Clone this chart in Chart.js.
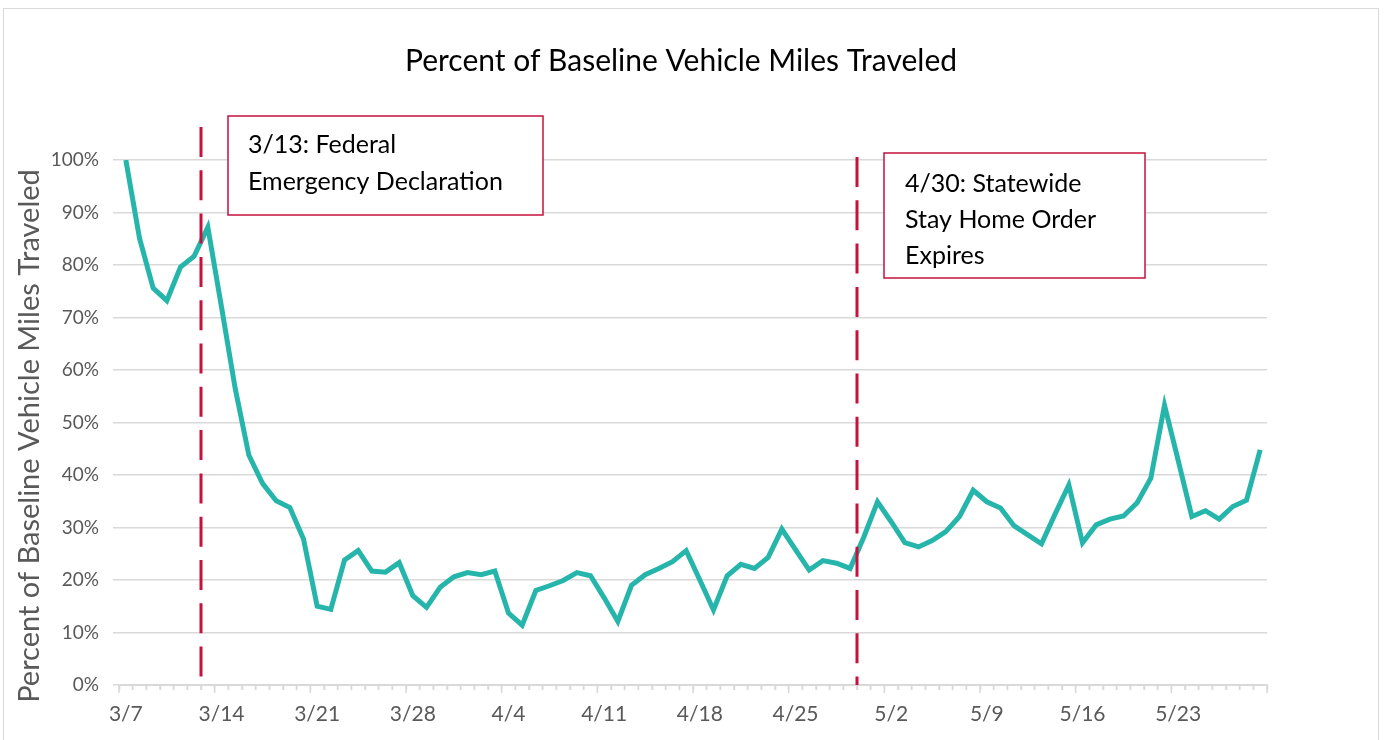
<!DOCTYPE html>
<html>
<head>
<meta charset="utf-8">
<script src="https://cdn.jsdelivr.net/npm/chart.js@4.4.0/dist/chart.umd.min.js"></script>
<style>
  html, body { margin: 0; padding: 0; background: #fff; }
  #wrap { position: relative; width: 1385px; height: 740px; overflow: hidden; }
  #frame { position: absolute; left: 3px; top: 8px; width: 1376px; height: 760px; border: 1.5px solid #d9d9d9; box-sizing: border-box; }
  canvas { position: absolute; left: 0; top: 0; }
</style>
</head>
<body>
<div id="wrap">
  <div id="frame"></div>
  <canvas id="c" width="1385" height="740"></canvas>
</div>
<script>
// ---- data ----
const categories = [
  '3/7','3/8','3/9','3/10','3/11','3/12','3/13','3/14','3/15','3/16','3/17','3/18','3/19','3/20',
  '3/21','3/22','3/23','3/24','3/25','3/26','3/27','3/28','3/29','3/30','3/31','4/1','4/2','4/3',
  '4/4','4/5','4/6','4/7','4/8','4/9','4/10','4/11','4/12','4/13','4/14','4/15','4/16','4/17',
  '4/18','4/19','4/20','4/21','4/22','4/23','4/24','4/25','4/26','4/27','4/28','4/29','4/30','5/1',
  '5/2','5/3','5/4','5/5','5/6','5/7','5/8','5/9','5/10','5/11','5/12','5/13','5/14','5/15',
  '5/16','5/17','5/18','5/19','5/20','5/21','5/22','5/23','5/24','5/25','5/26','5/27','5/28','5/29'
];
const vmtPercent = [
  100, 85.1, 75.6, 73.2, 79.6, 81.7, 87.2, 72, 56.5, 43.8, 38.4, 35.1, 33.8, 27.8,
  15.0, 14.4, 23.8, 25.6, 21.7, 21.5, 23.3, 17.0, 14.8, 18.6, 20.6, 21.4, 21.0, 21.7,
  13.7, 11.4, 18.0, 18.9, 19.9, 21.4, 20.8, 16.6, 12.1, 19.0, 21.0, 22.2, 23.5, 25.6,
  20.0, 14.3, 20.8, 23.0, 22.2, 24.3, 29.7, 25.8, 21.9, 23.7, 23.2, 22.2, 28.2, 34.9,
  31.1, 27.1, 26.3, 27.5, 29.2, 32.1, 37.1, 34.9, 33.7, 30.3, 28.6, 26.9, 32.6, 38.1,
  27.1, 30.5, 31.6, 32.2, 34.7, 39.4, 53.3, 42.8, 32.1, 33.2, 31.6, 34.0, 35.2, 44.8
];
const tickLabels = ['3/7','3/14','3/21','3/28','4/4','4/11','4/18','4/25','5/2','5/9','5/16','5/23'];
const eventDates = ['3/13', '4/30'];
const eventTexts = [
  ['3/13: Federal', 'Emergency Declaration'],
  ['4/30: Statewide', 'Stay Home Order', 'Expires']
];
const yTicks = [0, 10, 20, 30, 40, 50, 60, 70, 80, 90, 100];
const chartTitle = 'Percent of Baseline Vehicle Miles Traveled';
const yAxisTitle = 'Percent of Baseline Vehicle Miles Traveled';

// ---- styles ----
const FONT = 'Lato, "Open Sans", sans-serif';
const GRID = '#d9d9d9';
const RED = '#c8103c';
const TEAL = '#26b5aa';

// annotation layout (pixel boxes relative to canvas)
const eventLayout = [
  { lineTop: 127, box: { x: 228, y: 116, w: 315, h: 99 }, textX: 248, firstLine: 145, lineGap: 37 },
  { lineTop: 157, box: { x: 884, y: 153, w: 261, h: 125 }, textX: 905, firstLine: 184, lineGap: 36 }
];
const titleLayout = { x: 681, y: 61, size: 30 };
const yTitleLayout = { x: 30, y: 436, size: 29 };

const annotationPlugin = {
  id: 'events',
  afterDraw(chart) {
    const ctx = chart.ctx;
    const xs = chart.scales.x;
    const area = chart.chartArea;

    // titles
    ctx.save();
    ctx.fillStyle = '#000';
    ctx.font = titleLayout.size + 'px ' + FONT;
    ctx.textAlign = 'center';
    ctx.textBaseline = 'middle';
    ctx.fillText(chartTitle, titleLayout.x, titleLayout.y);
    ctx.translate(yTitleLayout.x, yTitleLayout.y);
    ctx.rotate(-Math.PI / 2);
    ctx.fillStyle = '#595959';
    ctx.font = yTitleLayout.size + 'px ' + FONT;
    ctx.fillText(yAxisTitle, 0, 0);
    ctx.restore();

    // major ticks on x axis
    ctx.save();
    ctx.strokeStyle = GRID;
    ctx.lineWidth = 1.5;
    for (let k = 0; k <= categories.length; k++) {
      const px = xs.getPixelForValue(k - 0.5);
      const major = (k < categories.length && tickLabels.includes(categories[k])) || k === categories.length;
      ctx.beginPath();
      ctx.moveTo(px, area.bottom);
      ctx.lineTo(px, area.bottom + (major ? 8 : 5));
      ctx.stroke();
    }
    ctx.restore();

    eventDates.forEach((d, i) => {
      const idx = categories.indexOf(d);
      const px = Math.round(xs.getPixelForValue(idx - 0.5));
      const L = eventLayout[i];
      ctx.save();
      ctx.strokeStyle = RED;
      ctx.lineWidth = 3;
      ctx.setLineDash([30, 13.3]);
      ctx.beginPath();
      ctx.moveTo(px, L.lineTop);
      ctx.lineTo(px, area.bottom);
      ctx.stroke();
      ctx.setLineDash([]);
      ctx.fillStyle = '#fff';
      ctx.fillRect(L.box.x, L.box.y, L.box.w, L.box.h);
      ctx.lineWidth = 1.5;
      ctx.strokeRect(L.box.x, L.box.y, L.box.w, L.box.h);
      ctx.fillStyle = '#000';
      ctx.font = '25px ' + FONT;
      ctx.textBaseline = 'middle';
      ctx.textAlign = 'left';
      eventTexts[i].forEach((t, j) => ctx.fillText(t, L.textX, L.firstLine + j * L.lineGap));
      ctx.restore();
    });
  }
};

new Chart(document.getElementById('c'), {
  type: 'line',
  data: {
    labels: categories,
    datasets: [{
      data: vmtPercent,
      borderColor: TEAL,
      borderWidth: 5,
      pointRadius: 0,
      tension: 0,
      fill: false
    }]
  },
  options: {
    responsive: false,
    animation: false,
    layout: { padding: { left: 0, right: 118, top: 160, bottom: 0 } },
    plugins: {
      legend: { display: false },
      tooltip: { enabled: false },
      title: { display: false }
    },
    scales: {
      x: {
        type: 'category',
        offset: true,
        grid: { display: true, drawOnChartArea: false, offset: true, drawTicks: true, tickLength: 5, tickColor: GRID, tickWidth: 1.5 },
        border: { display: true, color: GRID, width: 2 },
        ticks: {
          autoSkip: false,
          maxRotation: 0,
          padding: 12,
          color: '#595959',
          font: { family: FONT, size: 21 },
          callback(v, i) { const l = categories[i]; return tickLabels.includes(l) ? l : ''; }
        },
        afterFit(s) { s.height = 55; }
      },
      y: {
        min: 0,
        max: 100,
        afterBuildTicks(s) { s.ticks = yTicks.map(v => ({ value: v })); },
        grid: { color: GRID, lineWidth: 1.5, tickLength: 6, tickColor: GRID },
        border: { display: false },
        ticks: {
          padding: 14,
          color: '#595959',
          font: { family: FONT, size: 19 },
          callback(v) { return v + '%'; }
        },
        afterFit(s) { s.width = 119; }
      }
    }
  },
  plugins: [annotationPlugin]
});
</script>
</body>
</html>
